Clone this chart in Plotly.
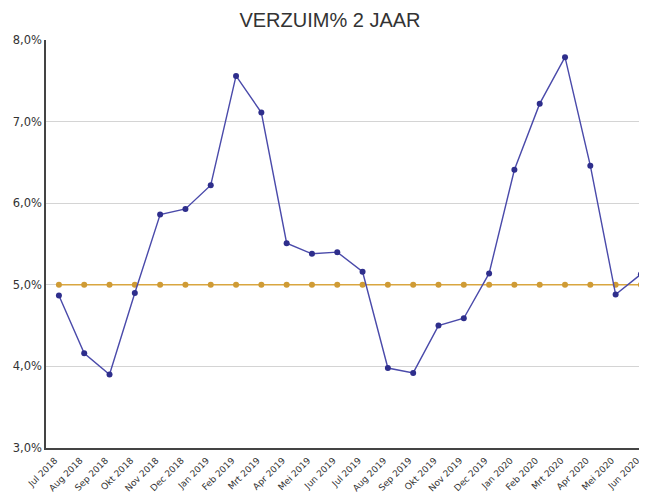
import plotly.graph_objects as go

months = ["Jul 2018", "Aug 2018", "Sep 2018", "Okt 2018", "Nov 2018", "Dec 2018",
          "Jan 2019", "Feb 2019", "Mrt 2019", "Apr 2019", "Mei 2019", "Jun 2019",
          "Jul 2019", "Aug 2019", "Sep 2019", "Okt 2019", "Nov 2019", "Dec 2019",
          "Jan 2020", "Feb 2020", "Mrt 2020", "Apr 2020", "Mei 2020", "Jun 2020"]
verzuim = [4.87, 4.16, 3.90, 4.90, 5.86, 5.93,
           6.22, 7.56, 7.11, 5.51, 5.38, 5.40,
           5.16, 3.98, 3.92, 4.50, 4.59, 5.14,
           6.41, 7.22, 7.79, 6.46, 4.88, 5.13]
norm = [5.0] * 24

x_idx = list(range(len(months)))

fig = go.Figure()
fig.add_trace(go.Scatter(
    x=x_idx, y=norm, mode="lines+markers",
    line=dict(color="#d9a640", width=1.5),
    marker=dict(color="#cf9b35", size=6),
    hoverinfo="y", cliponaxis=False))
fig.add_trace(go.Scatter(
    x=x_idx, y=verzuim, mode="lines+markers",
    line=dict(color="#4a4aaa", width=1.4),
    marker=dict(color="#2e2e8c", size=6),
    hoverinfo="y", cliponaxis=False))

fig.update_layout(
    width=639, height=487,
    margin=dict(l=38, r=0, t=32, b=47, autoexpand=False),
    paper_bgcolor="white", plot_bgcolor="white",
    showlegend=False,
    separators=",.",
    font=dict(family="DejaVu Sans", color="#333333"),
    title=dict(text="VERZUIM% 2 JAAR", x=(330 - 8) / 639, xanchor="center",
               y=1 - 12 / 487, yanchor="middle",
               font=dict(size=20, color="#333333", family="Liberation Sans")),
    xaxis=dict(
        tickmode="array", tickvals=x_idx, ticktext=months,
        range=[-0.51, 23.24], tickangle=-45,
        tickfont=dict(size=9, color="#333333", family="DejaVu Sans"),
        ticklabelshift=-4, ticklabelstandoff=2,
        showgrid=False, showline=True, linecolor="#444444", linewidth=1.5,
        ticks="", zeroline=False, automargin=False),
    yaxis=dict(
        range=[3, 8], dtick=1, tickformat=".1f", ticksuffix="%",
        tickfont=dict(size=11.5, color="#333333", family="DejaVu Sans"),
        showgrid=True, gridcolor="#d4d4d4", gridwidth=1,
        showline=True, linecolor="#444444", linewidth=1.5,
        ticks="", zeroline=False, automargin=False),
)

fig.write_html("out.html")
